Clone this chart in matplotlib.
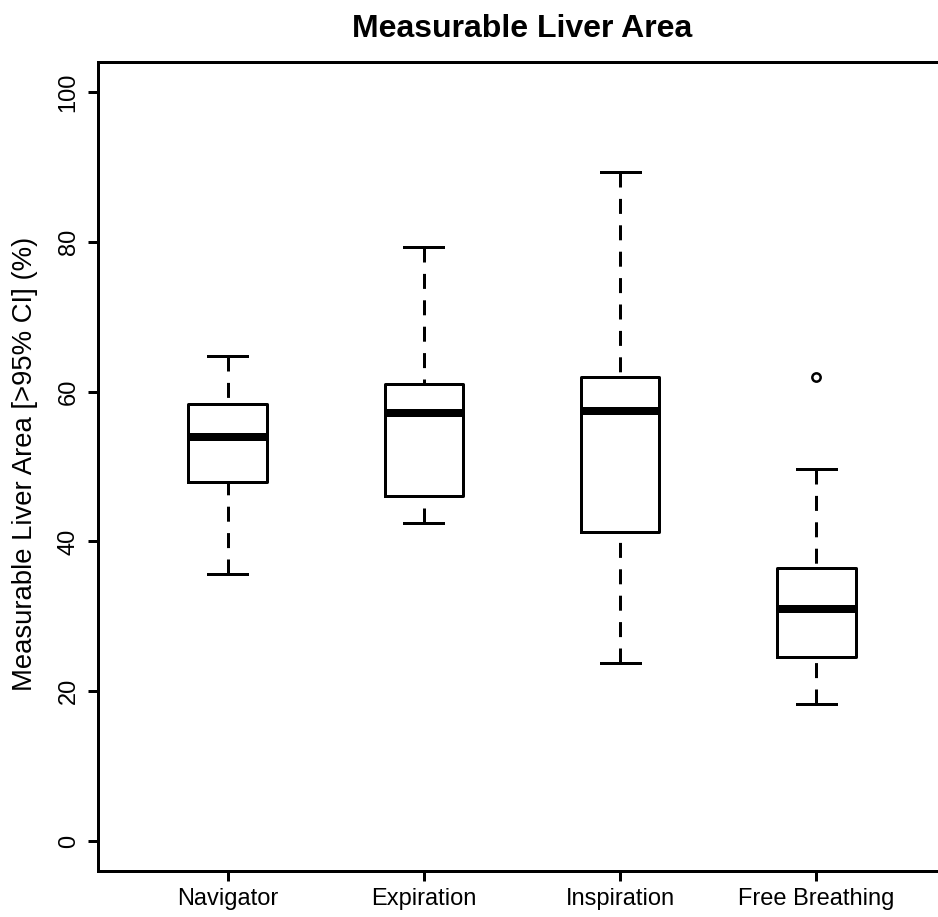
import matplotlib
matplotlib.use('Agg')
import matplotlib.pyplot as plt

plt.rcParams['font.family'] = ['Liberation Sans', 'DejaVu Sans']

# values (percent)
groups = ['Navigator', 'Expiration', 'Inspiration', 'Free Breathing']
whis_lo = [35.7, 42.4, 23.8, 18.3]
q1 = [47.9, 46.0, 41.2, 24.6]
medians = [54.0, 57.1, 57.4, 31.0]
q3 = [58.4, 61.0, 61.9, 36.4]
whis_hi = [64.7, 79.3, 89.3, 49.6]
outliers = [[], [], [], [62.0]]

stats = []
for i, name in enumerate(groups):
    stats.append({'label': name, 'whislo': whis_lo[i], 'q1': q1[i],
                  'med': medians[i], 'q3': q3[i], 'whishi': whis_hi[i],
                  'fliers': outliers[i]})

px = 0.72  # one pixel in points at dpi 100
fig = plt.figure(figsize=(9.38, 9.17), dpi=100)
ax = fig.add_axes([98 / 938, 46 / 917, 848 / 938, 809 / 917])

bp = ax.bxp(stats, positions=[1, 2, 3, 4], widths=0.4, capwidths=0.2,
            boxprops=dict(color='black', linewidth=3 * px),
            whiskerprops=dict(color='black', linewidth=3 * px, linestyle=(0, (5, 3.8))),
            capprops=dict(color='black', linewidth=3 * px),
            medianprops=dict(color='black', linewidth=8 * px, solid_capstyle='butt'),
            flierprops=dict(marker='o', markersize=6, markerfacecolor='none',
                            markeredgecolor='black', markeredgewidth=2.5 * px))

# R draws whiskers from the cap toward the box, so start the dashes there
for w in bp['whiskers']:
    x, y = w.get_data()
    w.set_data(x[::-1], y[::-1])

ax.set_xlim(0.34, 4.66)
ax.set_ylim(-4, 104)
ax.set_yticks([0, 20, 40, 60, 80, 100])
ax.set_xticks([1, 2, 3, 4])
ax.set_xticklabels(groups)

for s in ax.spines.values():
    s.set_linewidth(3 * px)
ax.tick_params(axis='both', direction='out', length=10 * px, width=3 * px,
               labelsize=17, colors='black')
ax.tick_params(axis='x', pad=5)
ax.tick_params(axis='y', pad=6, labelrotation=90)
for lab in ax.get_yticklabels():
    lab.set_va('center')

ax.set_title('Measurable Liver Area', fontsize=23, fontweight='bold', pad=18)
fig.text(25 / 938, 1 - 464 / 917, 'Measurable Liver Area [>95% CI] (%)',
         rotation=90, ha='center', va='center', fontsize=19.8)

fig.savefig('out.png', dpi=100)
